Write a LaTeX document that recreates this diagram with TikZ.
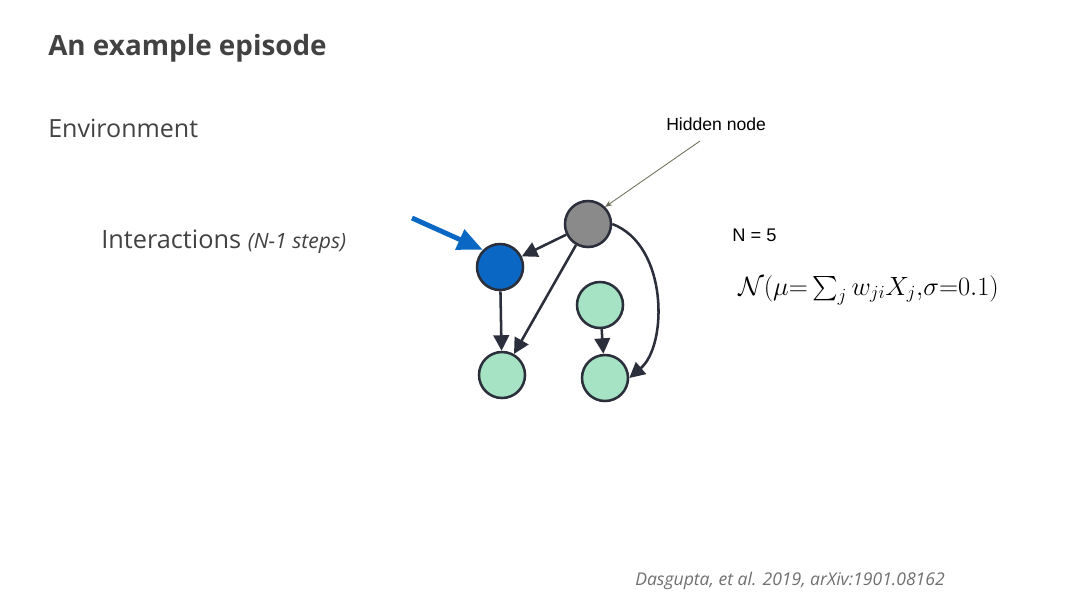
\RequirePackage{fix-cm}
\documentclass[tikz,border=0pt]{standalone}
\usepackage{amsmath}
\usepackage{fontspec}
\setmainfont{Open Sans}
\newfontfamily\arialfont{Liberation Sans}
\usetikzlibrary{arrows.meta}
\definecolor{edgecol}{HTML}{2B2E3B}
\definecolor{observed}{HTML}{0A68C4}
\definecolor{hiddencol}{HTML}{8A8A8A}
\definecolor{leafcol}{HTML}{A5E3C4}
\definecolor{textcol}{HTML}{424242}
\definecolor{citecol}{HTML}{707070}
\definecolor{pointcol}{HTML}{6E6E5A}
\begin{document}
\begin{tikzpicture}[x=0.025cm,y=-0.025cm,
    vertex/.style={circle,draw=edgecol,line width=1.8pt,minimum size=1.15cm,inner sep=0pt},
    link/.style={draw=edgecol,line width=1.8pt,-{Triangle[length=11pt,width=11pt]}},
    label/.style={anchor=base west,inner sep=0pt,text=textcol}]
  \useasboundingbox[fill=white] (0,0) rectangle (1080,608);
  % text on the slide
  \node[label,font=\fontsize{19.8}{24}\selectfont\bfseries] (title) at (48,55) {An example episode};
  \node[label,font=\fontsize{17.8}{22}\selectfont] (env) at (48,137) {Environment};
  \node[label,font=\fontsize{18}{22}\selectfont] (inter) at (101,248)
    {Interactions {\fontsize{15}{18}\selectfont\itshape (N-1 steps)}};
  \node[label,font=\arialfont\fontsize{12.5}{15}\selectfont,text=black] (hidtext) at (666,130) {Hidden node};
  \node[label,font=\arialfont\fontsize{13}{15}\selectfont,text=black] (n) at (732,241) {N = 5};
  \node[label,font=\fontsize{18.8}{22}\selectfont,text=black] (dist) at (738,295)
    {$\mathcal{N}(\mu{=}\sum_j w_{ji}X_j{,}\sigma{=}0.1)$};
  \node[label,font=\fontsize{12.5}{15}\selectfont\itshape,text=citecol] (cite) at (635,585)
    {Dasgupta, et al. 2019, arXiv:1901.08162};
  % the graph
  \node[vertex,fill=hiddencol] (h) at (588,224) {};
  \node[vertex,fill=observed] (x1) at (500,267) {};
  \node[vertex,fill=leafcol] (x2) at (502,375) {};
  \node[vertex,fill=leafcol] (x3) at (600,305) {};
  \node[vertex,fill=leafcol] (x4) at (605,378) {};
  \draw[link] (h) -- (x1);
  \draw[link] (h) -- (x2);
  \draw[link] (x1) -- (x2);
  \draw[link] (x3) -- (x4);
  \draw[link] (h.east) .. controls (668,245) and (668,345) .. (x4.east);
  % pointers
  \coordinate (push) at (412,218);
  \draw[observed,line width=3.5pt,-{Triangle[length=18pt,width=15pt]}] (push) -- (x1.north west);
  \coordinate (hidfoot) at (700,141);
  \draw[pointcol,line width=0.6pt,-{Stealth[length=5pt,width=4pt]}] (hidfoot) -- (h.north east);
\end{tikzpicture}
\end{document}
